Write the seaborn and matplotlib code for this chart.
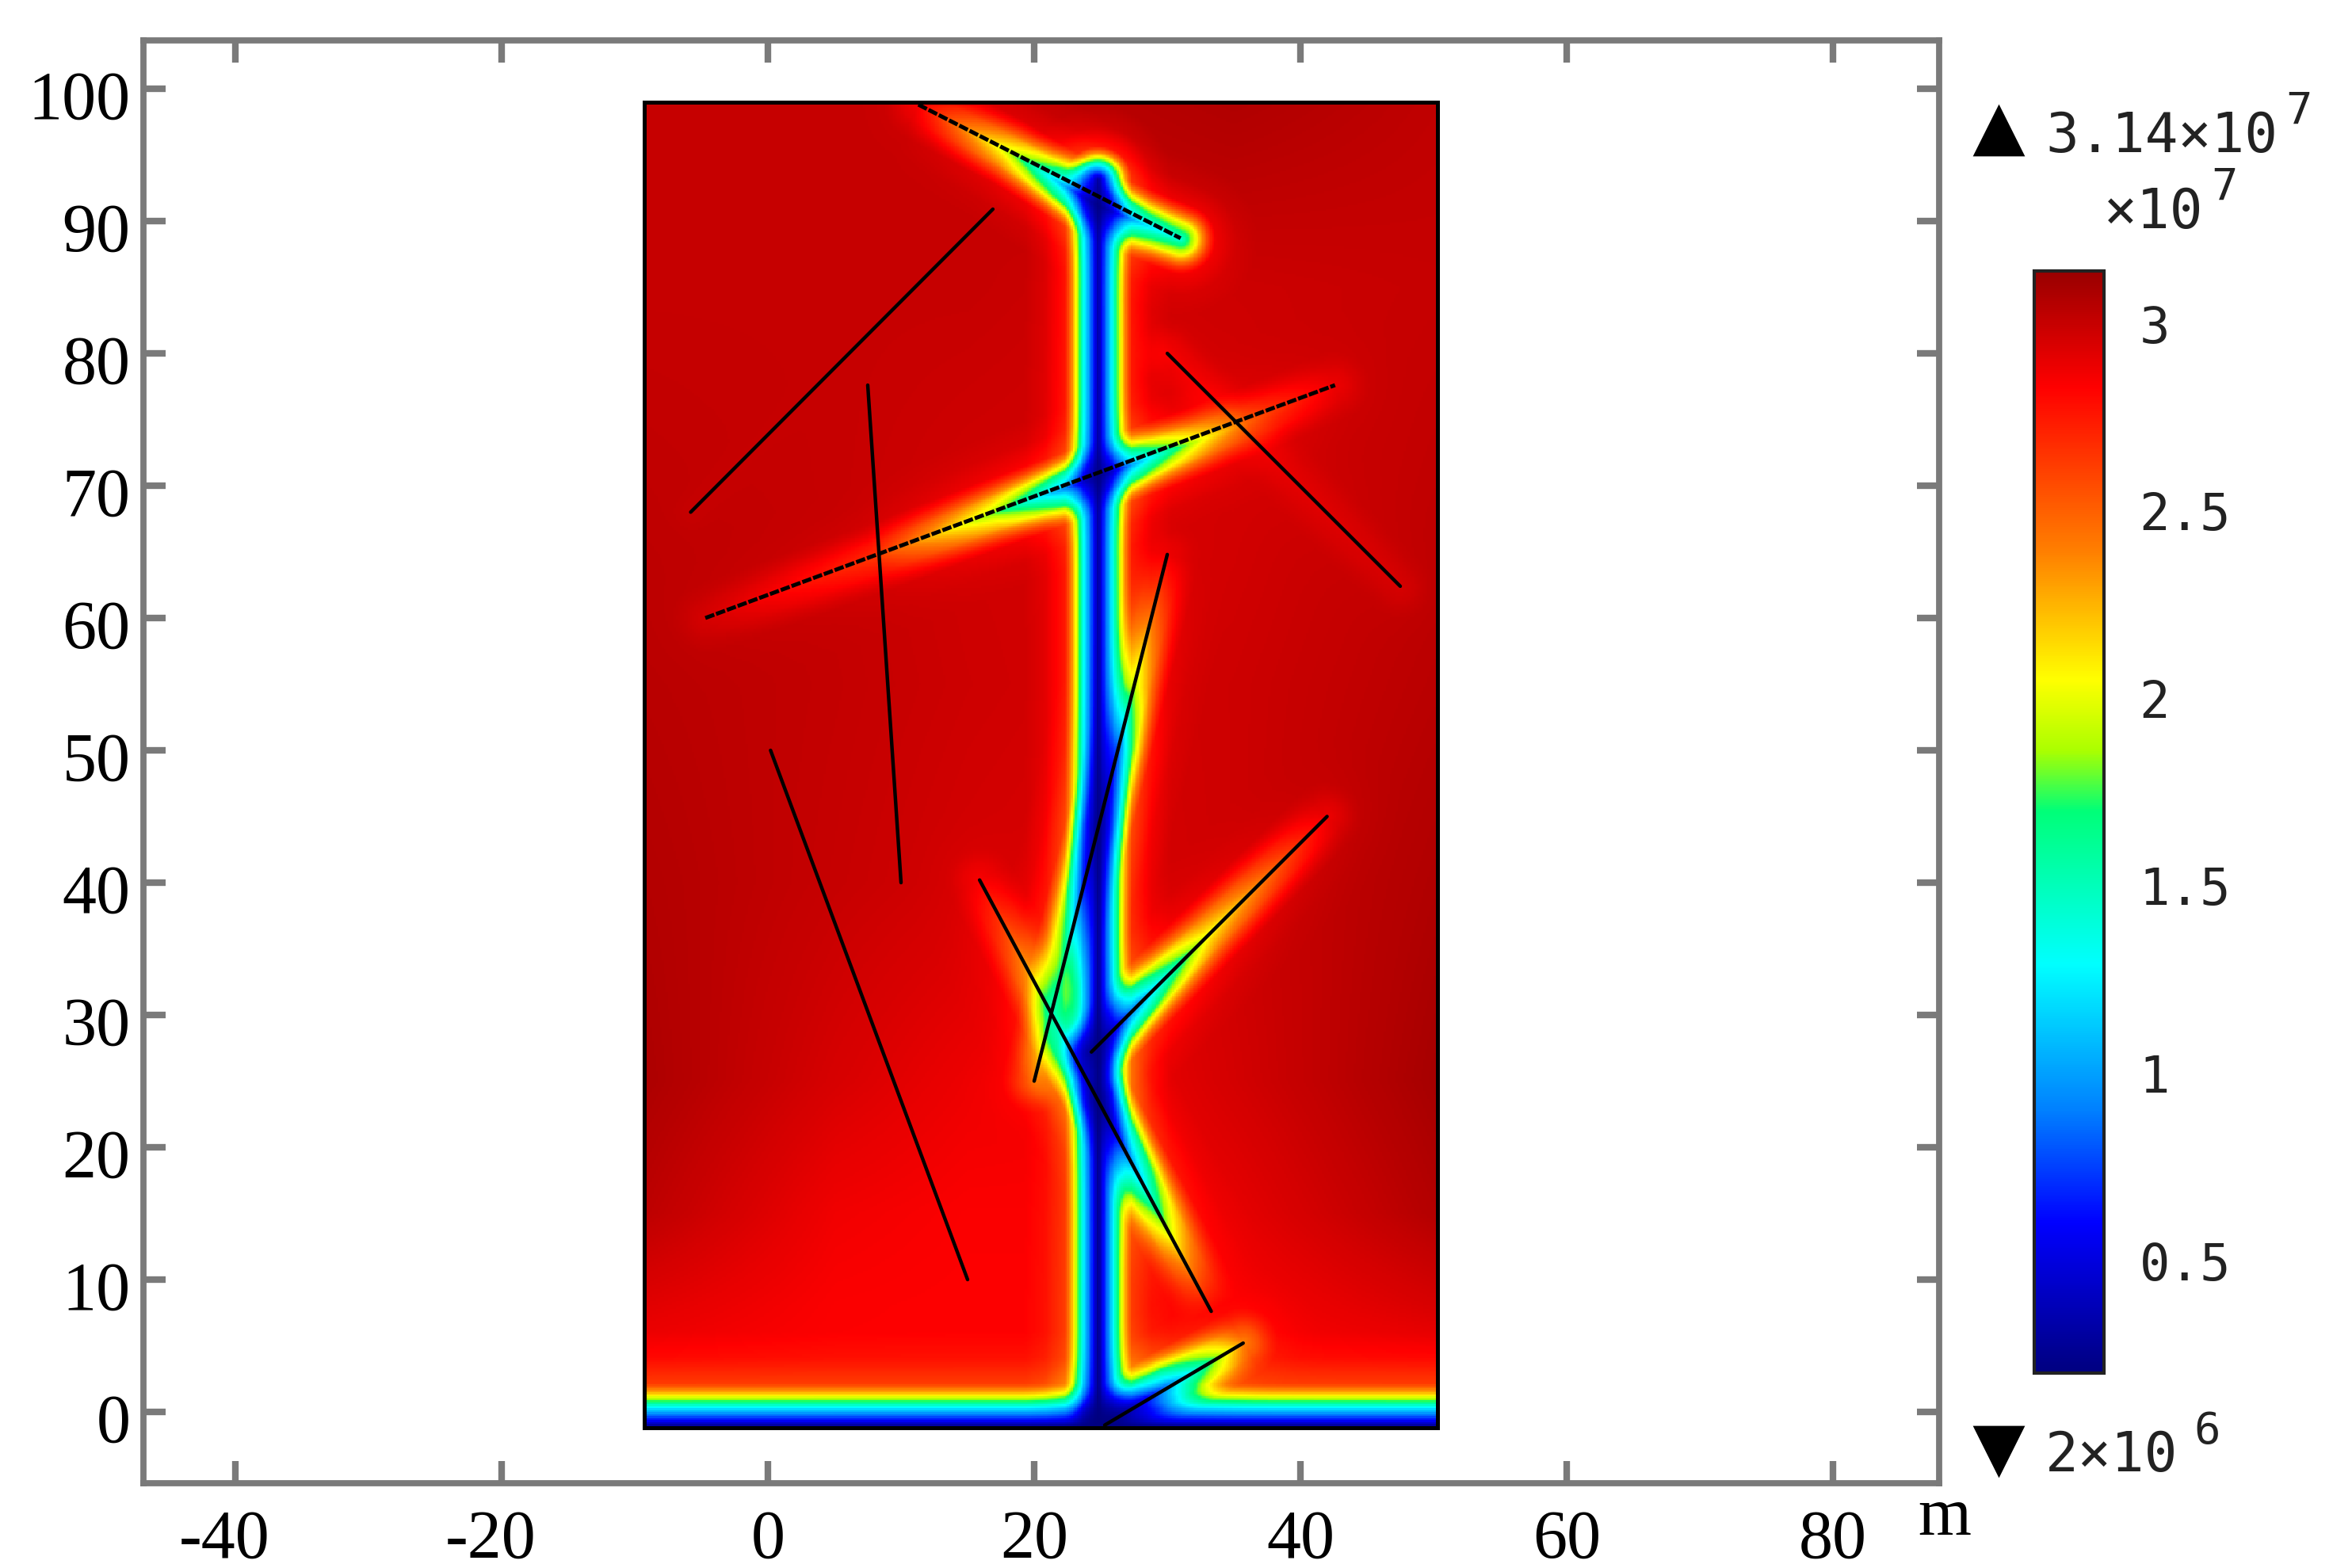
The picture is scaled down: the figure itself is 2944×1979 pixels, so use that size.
"""
Pressure field around a fractured well, rebuilt from values read off the picture.
"""

import numpy as np
import matplotlib
matplotlib.use('Agg')
import matplotlib.pyplot as plt
from matplotlib.colors import LinearSegmentedColormap
from matplotlib.transforms import ScaledTranslation
import seaborn as sns

W, H = 2944, 1979

# axis ticks
x_ticks = [-40, -20, 0, 20, 40, 60, 80]
x_tick_labels = ['-40', '-20', '0', '20', '40', '60', '80']
y_ticks = [0, 10, 20, 30, 40, 50, 60, 70, 80, 90, 100]
y_tick_labels = ['0', '10', '20', '30', '40', '50', '60', '70', '80', '90', '100']

# colour bar
bar_ticks = [0.5, 1, 1.5, 2, 2.5, 3]
bar_tick_labels = ['0.5', '1', '1.5', '2', '2.5', '3']
p_min, p_max = 0.2, 3.14
bar_stop_values = [0.2, 0.6, 0.9, 1.29, 1.7, 1.86, 2.05, 2.39, 2.83, 3.14]
bar_stop_colors = ['#000080', '#0000ff', '#0080ff', '#00ffff', '#00ff78',
                   '#aaff00', '#ffff00', '#ff8000', '#ff0000', '#990000']

# model domain (m)
domain_x = [-9.3, 50.3]
domain_y = [-1.2, 99.0]

# background pressure (x10^7) read on a coarse grid
bg_x = [-9.3, 5, 15, 24.8, 35, 50.3]
bg_y = [-1.2, 3, 8, 15, 25, 40, 55, 70, 85, 99]
bg_p = [
    [2.83, 2.83, 2.83, 2.83, 2.83, 2.83],
    [2.84, 2.83, 2.83, 2.83, 2.83, 2.84],
    [2.92, 2.84, 2.83, 2.83, 2.85, 2.95],
    [3.03, 2.87, 2.84, 2.84, 2.90, 3.06],
    [3.08, 2.95, 2.88, 2.86, 2.96, 3.10],
    [3.06, 3.00, 2.96, 2.94, 2.98, 3.07],
    [3.04, 3.01, 2.98, 2.96, 2.98, 3.04],
    [3.02, 3.00, 2.97, 2.96, 2.96, 3.02],
    [3.00, 3.00, 3.00, 2.98, 2.98, 3.00],
    [3.00, 3.00, 3.00, 3.04, 3.07, 3.02],
]

# how pressure recovers with distance from a flow path (read across the well)
recover_d = [0.0, 0.35, 1.1, 1.4, 1.7, 2.0, 2.5, 4.0, 5.5]
recover_f = [0.0, 0.14, 0.39, 0.54, 0.66, 0.78, 0.92, 0.98, 1.0]

# well and lower boundary: x, y, pressure along the line
well_x = [24.8, 24.8]
well_y = [-1.0, 93.2]
well_p = [0.2, 0.3]
boundary_x = [-9.3, 50.3]
boundary_y = [-1.2, -1.2]
boundary_p = [0.2, 0.2]

# fractures
f1_x, f1_y, f1_p = [-5.8, 16.9], [68.0, 90.9], [3.0, 3.0]
f2_x, f2_y, f2_p = [7.5, 10.0], [77.6, 40.0], [3.0, 3.0]
f3_x = [-4.7, 8.0, 17.0, 24.8, 32.0, 36.0, 42.6]
f3_y = [60.0, 64.5, 67.9, 70.7, 73.3, 74.8, 77.6]
f3_p = [2.95, 2.65, 1.8, 0.6, 1.9, 2.55, 2.88]
f4_x, f4_y, f4_p = [30.0, 47.5], [80.0, 62.4], [2.85, 2.95]
f5_x, f5_y, f5_p = [0.2, 15.0], [50.0, 10.0], [3.1, 3.1]
f6_x = [15.9, 21.5, 24.8, 28.0, 31.0, 33.3]
f6_y = [40.2, 29.8, 23.6, 17.6, 12.0, 7.6]
f6_p = [2.85, 2.1, 0.5, 1.2, 2.2, 2.85]
f7_x = [30.0, 27.5, 26.3, 24.8, 21.0, 20.0]
f7_y = [64.8, 54.9, 50.2, 44.2, 29.0, 25.0]
f7_p = [2.88, 2.0, 1.2, 0.9, 2.2, 2.5]
f8_x = [42.0, 33.0, 28.0, 24.3]
f8_y = [45.0, 36.0, 31.0, 27.2]
f8_p = [2.88, 2.0, 1.0, 0.6]
f9_x = [25.3, 30.0, 34.0, 35.7]
f9_y = [-1.0, 2.0, 4.2, 5.2]
f9_p = [0.3, 1.0, 1.9, 2.4]
f10_x = [11.3, 18.0, 24.8, 28.0, 31.0]
f10_y = [98.8, 95.3, 91.2, 89.9, 88.7]
f10_p = [2.85, 1.9, 0.6, 1.2, 1.4]

flow_paths = [
    (well_x, well_y, well_p, 1.0),
    (boundary_x, boundary_y, boundary_p, 1.3),
    (f1_x, f1_y, f1_p, 0.7),
    (f2_x, f2_y, f2_p, 0.7),
    (f3_x, f3_y, f3_p, 1.05),
    (f4_x, f4_y, f4_p, 1.0),
    (f5_x, f5_y, f5_p, 0.7),
    (f6_x, f6_y, f6_p, 1.05),
    (f7_x, f7_y, f7_p, 1.0),
    (f8_x, f8_y, f8_p, 1.05),
    (f9_x, f9_y, f9_p, 1.05),
    (f10_x, f10_y, f10_p, 1.05),
]

solid_lines = [(f1_x, f1_y), (f2_x, f2_y), (f4_x, f4_y), (f5_x, f5_y),
               (f6_x, f6_y), (f7_x, f7_y), (f8_x, f8_y), (f9_x, f9_y)]
dashed_lines = [(f3_x, f3_y), (f10_x, f10_y)]


def px_x(px):
    return px / W


def px_y(py):
    return 1 - py / H


def background(gx, gy):
    """Bilinear lookup in the coarse background table."""
    table = np.array(bg_p)
    by_col = np.array([np.interp(gy, bg_y, table[:, j]) for j in range(table.shape[1])])
    return np.array([np.interp(gx, bg_x, by_col[:, i]) for i in range(len(gy))])


def path_distance(xx, yy, xs, ys, ps):
    """Distance to a polyline and the pressure on its nearest point."""
    best_d = np.full(xx.shape, np.inf)
    best_p = np.zeros(xx.shape)
    for k in range(len(xs) - 1):
        dx, dy = xs[k + 1] - xs[k], ys[k + 1] - ys[k]
        t = ((xx - xs[k]) * dx + (yy - ys[k]) * dy) / (dx * dx + dy * dy)
        t = np.clip(t, 0, 1)
        d = np.hypot(xx - xs[k] - t * dx, yy - ys[k] - t * dy)
        p = ps[k] + t * (ps[k + 1] - ps[k])
        near = d < best_d
        best_d[near] = d[near]
        best_p[near] = p[near]
    return best_d, best_p


def build_field():
    gx = np.arange(domain_x[0], domain_x[1] + 0.075, 0.15)
    gy = np.arange(domain_y[0], domain_y[1] + 0.075, 0.15)
    bg = background(gx, gy)
    xx, yy = np.meshgrid(gx, gy)
    share = np.ones(xx.shape)
    for xs, ys, ps, width in flow_paths:
        d, core = path_distance(xx, yy, xs, ys, ps)
        core = np.minimum(core, bg)
        rec = np.interp(d / width, recover_d, recover_f)
        local = core + (bg - core) * rec
        share *= (local - p_min) / (bg - p_min)
    return p_min + (bg - p_min) * share


sns.set_theme(style='white')
plt.rcParams['font.family'] = ['Liberation Serif', 'DejaVu Serif']
plt.rcParams['axes.unicode_minus'] = False

fig = plt.figure(figsize=(W / 200, H / 200), dpi=200, facecolor='white')

# colormap from the stops read on the bar
stops = [(v - p_min) / (p_max - p_min) for v in bar_stop_values]
rainbow = LinearSegmentedColormap.from_list('bar', list(zip(stops, bar_stop_colors)), N=512)

# main frame
left, right, top, bottom = 181, 2447, 51, 1872
ax = fig.add_axes([px_x(left), px_y(bottom), (right - left) / W, (bottom - top) / H])
ax.set_xlim((left - 969) / 16.8, (right - 969) / 16.8)
ax.set_ylim((1782 - bottom) / 16.7, (1782 - top) / 16.7)
ax.set_facecolor('white')
ax.set_xticks(x_ticks)
ax.set_xticklabels(x_tick_labels)
ax.set_yticks(y_ticks)
ax.set_yticklabels(y_tick_labels)
ax.tick_params(axis='both', which='both', direction='in', length=10, width=3.0,
               color='#7a7a7a', top=True, right=True, bottom=True, left=True,
               labelsize=31, labelcolor='black')
ax.tick_params(axis='x', pad=12)
ax.tick_params(axis='y', pad=6)
for spine in ax.spines.values():
    spine.set_visible(True)
    spine.set_color('#7a7a7a')
    spine.set_linewidth(2.8)
ax.grid(False)

# nudge the labels to where they sit in the picture
for label in ax.get_yticklabels():
    label.set_transform(label.get_transform() + ScaledTranslation(0, -7 / 200, fig.dpi_scale_trans))
for label in ax.get_xticklabels()[:2]:
    label.set_transform(label.get_transform() + ScaledTranslation(-14 / 200, 0, fig.dpi_scale_trans))

# pressure field
field = build_field()
inset = ax.inset_axes([domain_x[0], domain_y[0], domain_x[1] - domain_x[0],
                       domain_y[1] - domain_y[0]], transform=ax.transData)
cax = fig.add_axes([px_x(2567), px_y(1733), 88 / W, (1733 - 342) / H])
sns.heatmap(field, ax=inset, cmap=rainbow, vmin=p_min, vmax=p_max,
            xticklabels=False, yticklabels=False, cbar_ax=cax,
            cbar_kws={'ticks': bar_ticks}, rasterized=True)
inset.invert_yaxis()
inset.set_xlabel('')
inset.set_ylabel('')
for spine in inset.spines.values():
    spine.set_visible(True)
    spine.set_color('black')
    spine.set_linewidth(1.8)

# fractures on top of the field
for xs, ys in solid_lines:
    ax.plot([xs[0], xs[-1]], [ys[0], ys[-1]], color='black', lw=1.6, zorder=6)
for xs, ys in dashed_lines:
    ax.plot([xs[0], xs[-1]], [ys[0], ys[-1]], color='black', lw=1.8,
            linestyle=(0, (2.4, 0.5)), zorder=6)

# colour bar styling
mono = 'DejaVu Sans Mono'
cax.set_yticks(bar_ticks)
cax.set_yticklabels(bar_tick_labels, family=mono, fontsize=23, color='#222222')
cax.yaxis.set_ticks_position('both')
cax.yaxis.set_label_position('right')
cax.tick_params(axis='y', direction='in', length=5.5, width=1.8, color='#301010',
                left=True, right=True, labelleft=False, labelright=True, pad=16)
cbar = inset.collections[0].colorbar
cbar.outline.set_visible(True)
cbar.outline.set_edgecolor('#222222')
cbar.outline.set_linewidth(1.5)

# labels around the colour bar
fig.text(px_x(2581), px_y(192), '3.14×10', family=mono, fontsize=25, color='#222222')
fig.text(px_x(2884), px_y(156), '7', family=mono, fontsize=20, color='#222222')
fig.text(px_x(2655), px_y(288), '×10', family=mono, fontsize=25, color='#222222')
fig.text(px_x(2790), px_y(252), '7', family=mono, fontsize=20, color='#222222')
fig.text(px_x(2581), px_y(1857), '2×10', family=mono, fontsize=25, color='#222222')
fig.text(px_x(2768), px_y(1822), '6', family=mono, fontsize=20, color='#222222')
fig.text(px_x(2420), px_y(1937), 'm', fontsize=31, color='black')

overlay = fig.add_axes([0, 0, 1, 1], facecolor='none')
overlay.set_xlim(0, W)
overlay.set_ylim(H, 0)
overlay.axis('off')
overlay.scatter([2522], [164], marker='^', s=560, color='black', linewidths=0)
overlay.scatter([2522], [1832], marker='v', s=560, color='black', linewidths=0)

fig.savefig('out.png', dpi=200, facecolor='white')
